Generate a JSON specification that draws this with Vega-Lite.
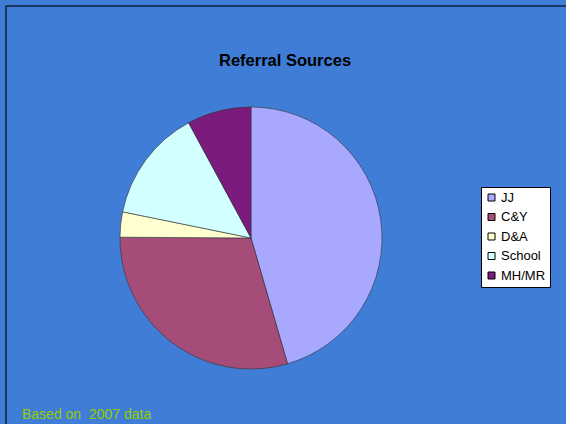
{
  "$schema": "https://vega.github.io/schema/vega-lite/v6.json",
  "width": 600,
  "height": 470,
  "padding": {"left": 6, "top": 6, "right": 0, "bottom": 0},
  "autosize": {"type": "none"},
  "background": "#3F7DD6",
  "view": {"stroke": "#10213F", "strokeWidth": 1.5, "fill": "#3F7DD6"},
  "config": {
    "font": "Liberation Sans"
  },
  "title": {
    "text": "Referral Sources",
    "fontSize": 16.5,
    "fontWeight": "bold",
    "font": "Liberation Sans",
    "color": "#000000",
    "anchor": "start",
    "offset": -76.5,
    "baseline": "alphabetic",
    "dx": 213
  },
  "layer": [
    {
      "data": {
        "values": [
          {"source": "JJ", "share": 45.5, "rank": 1},
          {"source": "C&Y", "share": 29.6, "rank": 2},
          {"source": "D&A", "share": 3.1, "rank": 3},
          {"source": "School", "share": 13.9, "rank": 4},
          {"source": "MH/MR", "share": 7.9, "rank": 5}
        ]
      },
      "mark": {"type": "arc", "radius": 131, "xOffset": -55, "yOffset": -3, "stroke": "#333333", "strokeWidth": 0.6},
      "encoding": {
        "theta": {"field": "share", "type": "quantitative", "stack": true},
        "order": {"field": "rank", "type": "quantitative"},
        "color": {
          "field": "source",
          "type": "nominal",
          "sort": ["JJ", "C&Y", "D&A", "School", "MH/MR"],
          "scale": {
            "domain": ["JJ", "C&Y", "D&A", "School", "MH/MR"],
            "range": ["#A8A8FE", "#A64C78", "#FFFFCF", "#D2FFFF", "#7B1B7B"]
          },
          "legend": {
            "orient": "none",
            "legendX": 475,
            "legendY": 181,
            "title": null,
            "fillColor": "#FFFFFF",
            "strokeColor": "#000000",
            "padding": 4,
            "symbolType": "square",
            "symbolSize": 49,
            "symbolStrokeColor": "#000000",
            "symbolStrokeWidth": 1,
            "symbolOpacity": 1,
            "labelFontSize": 13,
            "labelColor": "#000000",
            "labelFont": "Liberation Sans",
            "rowPadding": 5.5,
            "labelOffset": 3
          }
        }
      }
    },
    {
      "data": {"values": [{"note": "Based on\u00a0 2007 data"}]},
      "mark": {"type": "text", "align": "left", "baseline": "alphabetic", "fontSize": 14, "color": "#99CC00", "font": "Liberation Sans"},
      "encoding": {
        "text": {"field": "note", "type": "nominal"},
        "x": {"value": 16},
        "y": {"value": 413}
      }
    }
  ]
}
